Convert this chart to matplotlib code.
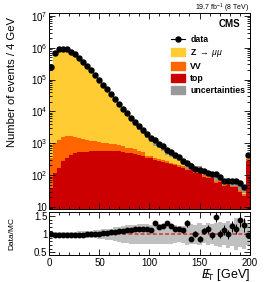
import matplotlib
matplotlib.use("Agg")
import matplotlib.pyplot as plt
import numpy as np
from matplotlib.lines import Line2D
from matplotlib.patches import Patch
from matplotlib.ticker import FixedLocator, FuncFormatter, LogLocator, MultipleLocator, NullFormatter

# 4 GeV bins, 0-200 GeV (last bin holds overflow)
edges = np.arange(0, 204, 4)
centers = edges[:-1] + 2

data = np.array([2.4e5, 7.1e5, 8.9e5, 9.4e5, 8.9e5, 7.6e5, 6.2e5, 4.7e5, 3.6e5, 2.7e5,
                 1.96e5, 1.42e5, 1.0e5, 7.0e4, 5.2e4, 3.5e4, 2.5e4, 1.66e4, 1.2e4, 9.1e3,
                 6.3e3, 4.6e3, 3.4e3, 2.7e3, 2.0e3, 1470, 1240, 950, 800, 630,
                 520, 435, 360, 270, 240, 186, 154, 147, 130, 120,
                 107, 110, 86, 66, 66, 66, 66, 56, 42, 420])

zmumu = np.array([2.396e5, 7.16e5, 8.97e5, 9.47e5, 8.97e5, 7.66e5, 6.24e5, 4.73e5, 3.62e5, 2.69e5,
                  1.95e5, 1.395e5, 9.69e4, 6.7e4, 4.9e4, 3.24e4, 2.24e4, 1.45e4, 1.02e4, 7450,
                  4900, 3330, 2340, 1810, 1340, 905, 606, 474, 350, 199,
                  179, 145, 103, 53, 24, 54, 22, 32, 16, 13,
                  21, 9, 17, 7, 10, 6, 11, 6, 9, 123])

vv = np.array([310, 885, 1135, 1310, 1315, 1225, 1110, 950, 830, 770,
               650, 600, 540, 450, 410, 380, 380, 300, 280, 220,
               220, 180, 170, 140, 60, 55, 48, 44, 40, 37,
               32, 30, 28, 25, 21, 20, 17, 17, 13, 12,
               11, 8, 8, 6, 6, 6, 5, 4, 3, 40])

top = np.array([40, 115, 165, 270, 345, 435, 490, 520, 520, 530,
                550, 550, 560, 580, 590, 580, 560, 550, 520, 510,
                480, 460, 420, 400, 350, 340, 300, 280, 255, 245,
                215, 200, 185, 165, 140, 140, 115, 120, 90, 80,
                78, 58, 60, 46, 50, 42, 42, 30, 22, 270])

ratio = np.array([1.0, 0.99, 0.99, 0.99, 0.99, 0.99, 0.99, 0.99, 0.99, 1.0,
                  1.0, 1.01, 1.02, 1.03, 1.04, 1.05, 1.07, 1.08, 1.09, 1.11,
                  1.12, 1.16, 1.16, 1.15, 1.14, 1.13, 1.30, 1.19, 1.24, 1.31,
                  1.22, 1.16, 1.14, 1.11, 1.30, 0.87, 1.0, 0.87, 1.09, 1.14,
                  0.97, 1.47, 1.01, 1.12, 1.0, 1.22, 1.14, 1.39, 1.25, 0.97])

# relative MC uncertainty
rel_unc = np.array([0.08, 0.07, 0.07, 0.07, 0.07, 0.07, 0.07, 0.08, 0.08, 0.10,
                    0.10, 0.11, 0.12, 0.14, 0.15, 0.16, 0.19, 0.21, 0.23, 0.25,
                    0.26, 0.27, 0.28, 0.28, 0.28, 0.27, 0.28, 0.28, 0.27, 0.28,
                    0.26, 0.25, 0.22, 0.24, 0.30, 0.28, 0.26, 0.30, 0.25, 0.30,
                    0.28, 0.32, 0.35, 0.30, 0.38, 0.32, 0.45, 0.35, 0.40, 0.30])

c_z, c_vv, c_top, c_unc = "#ffcc33", "#ff6600", "#cc0000", "#999999"

plt.rcParams["font.family"] = ["Liberation Sans", "DejaVu Sans"]
plt.rcParams["mathtext.fontset"] = "custom"
plt.rcParams["mathtext.rm"] = "Liberation Sans"
plt.rcParams["mathtext.it"] = "Liberation Sans:italic"

fig = plt.figure(figsize=(2.66, 2.82), dpi=100)
ax = fig.add_axes([0.186, 0.259, 0.752, 0.695])
rax = fig.add_axes([0.186, 0.094, 0.752, 0.153])

# stacked MC
mc = top + vv + zmumu
ax.stairs(mc, edges, baseline=1, fill=True, color=c_z, lw=0)
ax.stairs(top + vv, edges, baseline=1, fill=True, color=c_vv, lw=0)
ax.stairs(top, edges, baseline=1, fill=True, color=c_top, lw=0)
ax.stairs(mc * (1 + rel_unc * 0.5), edges, baseline=mc * (1 - rel_unc * 0.5),
          fill=True, color=c_unc, lw=0)

ax.errorbar(centers, data, yerr=np.sqrt(data), fmt="o", color="black",
            ms=3.6, lw=0.8, capsize=0)

ax.set_yscale("log")
ax.set_xlim(0, 200)
ax.set_ylim(8.6, 1.24e7)
ax.set_ylabel("Number of events / 4 GeV", fontsize=8.1)
ax.yaxis.set_label_coords(-0.16, 0.65)

def log_fmt(v, pos):
    n = int(round(np.log10(v)))
    return "10" if n == 1 else r"$10^{%d}$" % n

ax.yaxis.set_major_locator(LogLocator(base=10, numticks=10))
ax.yaxis.set_minor_locator(LogLocator(base=10, subs=np.arange(2, 10), numticks=20))
ax.yaxis.set_major_formatter(FuncFormatter(log_fmt))
ax.yaxis.set_minor_formatter(NullFormatter())
ax.xaxis.set_major_locator(MultipleLocator(50))
ax.xaxis.set_minor_locator(MultipleLocator(10))
ax.tick_params(axis="x", labelbottom=False)

for a in (ax, rax):
    a.tick_params(which="both", direction="in", top=True, right=True,
                  labelsize=7, pad=1.5, width=0.6)
    a.tick_params(which="major", length=4)
    a.tick_params(which="minor", length=2)
    for s in a.spines.values():
        s.set_linewidth(0.7)

handles = [Line2D([], [], color="black", marker="o", ms=3.6, lw=0.8),
           Patch(color=c_z), Patch(color=c_vv), Patch(color=c_top), Patch(color=c_unc)]
labels = ["data", r"Z $\rightarrow$ $\mu\mu$", "VV", "top", "uncertainties"]
leg = ax.legend(handles, labels, loc="upper left", bbox_to_anchor=(0.59, 0.905),
                frameon=False, fontsize=6.3, handlelength=1.6, handleheight=1.0,
                labelspacing=0.33, handletextpad=0.6, borderaxespad=0)
for t in leg.get_texts():
    t.set_fontweight("bold")

ax.text(0.955, 0.97, "CMS", transform=ax.transAxes, ha="right", va="top",
        fontsize=7, fontweight="bold")
fig.text(0.935, 0.993, r"19.7 fb$^{-1}$ (8 TeV)", ha="right", va="top", fontsize=5)

# ratio panel
rax.stairs(1 + rel_unc, edges, baseline=1 - rel_unc, fill=True, color="#c0c0c0", lw=0)
rax.axhline(1, color="#cc3333", ls="--", lw=1.1, dashes=(2.5, 1.5))
rerr = np.sqrt(data) / mc
rax.errorbar(centers, ratio, yerr=rerr, fmt="o", color="black",
             ms=3.2, lw=0.7, capsize=0)
rax.set_xlim(0, 200)
rax.set_ylim(0.41, 1.61)
rax.yaxis.set_major_locator(FixedLocator([0.5, 1.0, 1.5]))
rax.yaxis.set_minor_locator(FixedLocator([0.6, 0.7, 0.8, 0.9, 1.1, 1.2, 1.3, 1.4]))
rax.yaxis.set_major_formatter(FuncFormatter(lambda v, p: "%g" % v))
rax.xaxis.set_major_locator(MultipleLocator(50))
rax.xaxis.set_minor_locator(MultipleLocator(10))
rax.set_ylabel("Data/MC", fontsize=6)
rax.yaxis.set_label_coords(-0.17, 0.5)
rax.set_xlabel(r"$E\!\!\!/_{\mathrm{T}}$ [GeV]", fontsize=9)
rax.xaxis.set_label_coords(1.0, -0.27)
rax.xaxis.label.set_horizontalalignment("right")
rax.xaxis.label.set_verticalalignment("top")

fig.savefig("out.png", dpi=100)
